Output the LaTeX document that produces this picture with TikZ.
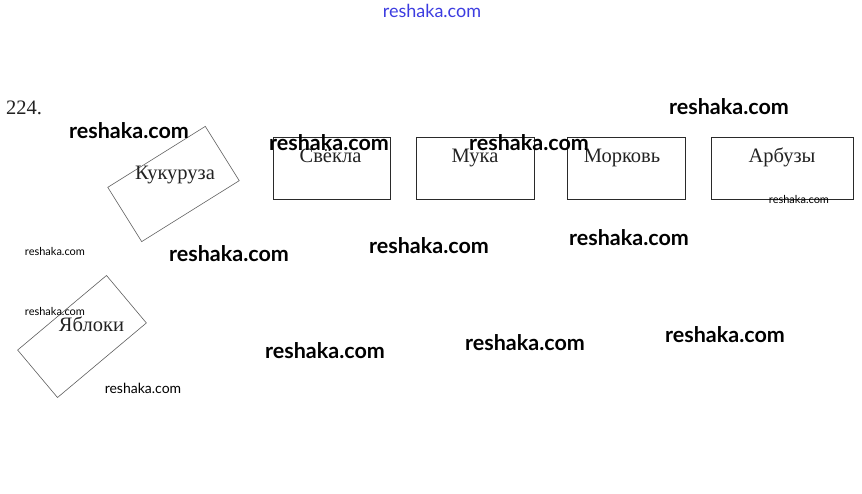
\documentclass[tikz,border=0pt]{standalone}
\usepackage{fontspec}
\setmainfont{Liberation Serif}
\newfontfamily\wmfont{Lato}
\definecolor{boxline}{HTML}{2A2A2A}
\definecolor{tiltline}{HTML}{5E5E5E}
\definecolor{labelgray}{HTML}{222222}
\definecolor{wmblue}{HTML}{3C3CE0}

\begin{document}
\begin{tikzpicture}[x=1pt,y=-1pt,
  crate/.style={draw=boxline,line width=0.9pt,minimum height=62pt,inner sep=0pt},
  tilted/.style={draw=tiltline,line width=0.6pt,inner sep=0pt},
  word/.style={font=\fontsize{20.5}{22}\selectfont,text=labelgray,inner sep=0pt,anchor=base},
  wmbig/.style={font=\wmfont\bfseries\fontsize{21.5}{23}\selectfont,inner sep=0pt},
  wmsmall/.style={font=\wmfont\fontsize{11}{12}\selectfont,inner sep=0pt}]
\useasboundingbox (0,0) rectangle (862,494);
% task number
\node[word,anchor=base west] (num) at (6,115) {224.};
% tilted boxes on the left
\node[tilted,minimum width=115pt,minimum height=64pt,rotate=32] (kukuruza) at (173.5,184) {};
\node[word] (kukuruzatext) at (175,180) {Кукуруза};
\node[tilted,minimum width=116pt,minimum height=62pt,rotate=40] (yabloki) at (82,336.5) {};
\node[word] (yablokitext) at (91.5,331) {Яблоки};
% row of boxes
\node[crate,minimum width=117pt] (svekla) at (331.5,168) {};
\node[word] (seklatext) at (330.5,163) {Свёкла};
\node[crate,minimum width=118pt] (muka) at (475,168) {};
\node[word] (mukatext) at (475,163) {Мука};
\node[crate,minimum width=118pt] (morkov) at (626,168) {};
\node[word] (morkovtext) at (622,163) {Морковь};
\node[crate,minimum width=142pt] (arbuzy) at (782,168) {};
\node[word] (arbuzytext) at (782,163) {Арбузы};
% watermarks
\node[font=\wmfont\fontsize{18}{20}\selectfont,text=wmblue,inner sep=0pt] (wmtop) at (432,11) {reshaka.com};
\node[wmbig] (wma) at (129,131) {reshaka.com};
\node[wmbig] (wmb) at (329,143) {reshaka.com};
\node[wmbig] (wmc) at (529,143) {reshaka.com};
\node[wmbig] (wmd) at (729,107) {reshaka.com};
\node[wmbig] (wme) at (229,254) {reshaka.com};
\node[wmbig] (wmf) at (429,246) {reshaka.com};
\node[wmbig] (wmg) at (629,238) {reshaka.com};
\node[wmbig] (wmh) at (325,351) {reshaka.com};
\node[wmbig] (wmi) at (525,343) {reshaka.com};
\node[wmbig] (wmj) at (725,335) {reshaka.com};
\node[wmsmall] (wmk) at (55,251) {reshaka.com};
\node[wmsmall] (wml) at (55,311) {reshaka.com};
\node[wmsmall,font=\wmfont\fontsize{14}{15}\selectfont] (wmm) at (143,388) {reshaka.com};
\node[wmsmall] (wmn) at (799,199) {reshaka.com};
\end{tikzpicture}
\end{document}
